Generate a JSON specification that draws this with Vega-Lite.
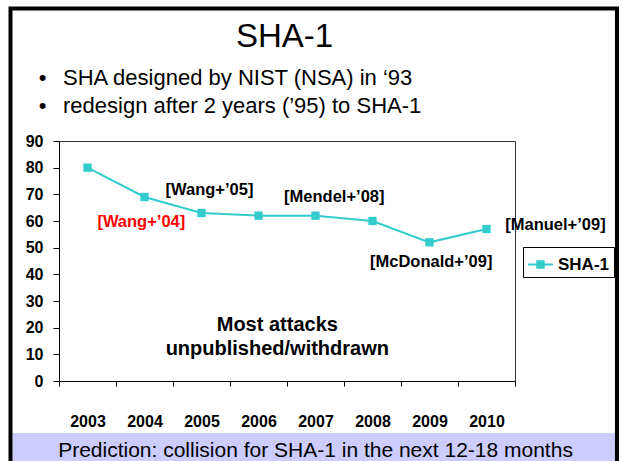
{
  "$schema": "https://vega.github.io/schema/vega-lite/v6.json",
  "width": 456,
  "height": 240,
  "autosize": {"type": "none"},
  "padding": {"left": 59, "top": 141, "right": 108, "bottom": 80},
  "background": "white",
  "config": {
    "font": "Liberation Sans",
    "view": {"stroke": "#333333", "strokeWidth": 1},
    "axis": {
      "labelFont": "Liberation Sans",
      "labelFontWeight": "bold",
      "labelFontSize": 16,
      "labelColor": "black",
      "domainColor": "black",
      "tickColor": "black",
      "grid": false,
      "title": null
    },
    "axisY": {"tickCount": 10, "tickSize": 6, "labelPadding": 10, "labelOverlap": false}
  },
  "datasets": {
    "series": [
      {"year": "2003", "y": 80, "series": "SHA-1"},
      {"year": "2004", "y": 69, "series": "SHA-1"},
      {"year": "2005", "y": 63, "series": "SHA-1"},
      {"year": "2006", "y": 62, "series": "SHA-1"},
      {"year": "2007", "y": 62, "series": "SHA-1"},
      {"year": "2008", "y": 60, "series": "SHA-1"},
      {"year": "2009", "y": 52, "series": "SHA-1"},
      {"year": "2010", "y": 57, "series": "SHA-1"}
    ],
    "notes": [
      {"label": "[Wang+’04]", "x": 2003.944, "y": 57.64},
      {"label": "[Wang+’05]", "x": 2005.14, "y": 69.75},
      {"label": "[Mendel+’08]", "x": 2007.33, "y": 67.24},
      {"label": "[McDonald+’09]", "x": 2009.03, "y": 42.64},
      {"label": "[Manuel+’09]", "x": 2011.21, "y": 56.6}
    ],
    "summary": [
      {"label": "Most attacks", "x": 2006.33, "y": 18.86},
      {"label": "unpublished/withdrawn", "x": 2006.33, "y": 9.75}
    ],
    "heading": [
      {"label": "SHA-1", "x": 2006.456, "y": 125.25}
    ],
    "header": [
      {"label": "SHA designed by NIST (NSA) in ‘93", "x": 2002.57, "y": 111.0},
      {"label": "redesign after 2 years (’95) to SHA-1", "x": 2002.57, "y": 100.5}
    ],
    "footer": [
      {"label": "Prediction: collision for SHA-1 in the next 12-18 months", "x": 2007.0, "y": -28.4}
    ],
    "panel": [
      {"x": 2001.684, "x2": 2012.272, "y": -19.5, "y2": -33}
    ],
    "frame": [
      {"x": 2001.649, "x2": 2012.289, "y": 139.69, "y2": -33.4}
    ]
  },
  "layer": [
    {
      "data": {"name": "series"},
      "mark": {"type": "line", "strokeWidth": 2, "point": {"shape": "square", "filled": true, "size": 70}},
      "encoding": {
        "x": {
          "field": "year",
          "type": "ordinal",
          "bandPosition": 0.5,
          "scale": {"type": "band", "paddingInner": 0, "paddingOuter": 0},
          "axis": {"labelAngle": 0, "tickBand": "extent", "tickSize": 5, "labelPadding": 27}
        },
        "y": {
          "field": "y",
          "type": "quantitative",
          "scale": {"domain": [0, 90], "nice": false}
        },
        "color": {
          "field": "series",
          "type": "nominal",
          "scale": {"range": ["#33CCCC"]},
          "legend": {
            "orient": "none",
            "legendX": 464,
            "legendY": 106,
            "title": null,
            "strokeColor": "black",
            "fillColor": "white",
            "padding": 4,
            "labelFont": "Liberation Sans",
            "labelFontSize": 17,
            "labelFontWeight": "bold",
            "labelColor": "black",
            "labelOffset": 4,
            "symbolType": "M-1,0L1,0M-0.26,-0.26L0.26,-0.26L0.26,0.26L-0.26,0.26Z",
            "symbolSize": 625,
            "symbolStrokeWidth": 2,
            "encode": {"symbols": {"update": {"fill": {"value": "#33CCCC"}, "stroke": {"value": "#33CCCC"}}}}
          }
        }
      }
    },
    {
      "data": {"name": "panel"},
      "mark": {"type": "rect", "color": "#CCCCFF"},
      "encoding": {
        "x": {"field": "x", "type": "quantitative", "scale": {"domain": [2002.5, 2010.5], "nice": false, "zero": false}, "axis": null},
        "x2": {"field": "x2"},
        "y": {"field": "y", "type": "quantitative", "scale": {"domain": [0, 90], "nice": false}},
        "y2": {"field": "y2"}
      }
    },
    {
      "data": {"name": "frame"},
      "mark": {"type": "rect", "filled": false, "stroke": "black", "strokeWidth": 4},
      "encoding": {
        "x": {"field": "x", "type": "quantitative", "scale": {"domain": [2002.5, 2010.5], "nice": false, "zero": false}, "axis": null},
        "x2": {"field": "x2"},
        "y": {"field": "y", "type": "quantitative", "scale": {"domain": [0, 90], "nice": false}},
        "y2": {"field": "y2"}
      }
    },
    {
      "data": {"name": "notes"},
      "mark": {"type": "text", "font": "Liberation Sans", "fontWeight": "bold", "fontSize": 16.5, "align": "center", "baseline": "alphabetic"},
      "encoding": {
        "x": {"field": "x", "type": "quantitative", "scale": {"domain": [2002.5, 2010.5], "nice": false, "zero": false}, "axis": null},
        "y": {"field": "y", "type": "quantitative", "scale": {"domain": [0, 90], "nice": false}},
        "text": {"field": "label"},
        "color": {"condition": {"test": "datum.label === '[Wang+’04]'", "value": "#FF0000"}, "value": "black"}
      }
    },
    {
      "data": {"name": "summary"},
      "mark": {"type": "text", "font": "Liberation Sans", "fontWeight": "bold", "fontSize": 20, "align": "center", "baseline": "alphabetic", "color": "black"},
      "encoding": {
        "x": {"field": "x", "type": "quantitative", "scale": {"domain": [2002.5, 2010.5], "nice": false, "zero": false}, "axis": null},
        "y": {"field": "y", "type": "quantitative", "scale": {"domain": [0, 90], "nice": false}},
        "text": {"field": "label"}
      }
    },
    {
      "data": {"name": "heading"},
      "mark": {"type": "text", "font": "Liberation Sans", "fontSize": 33, "align": "center", "baseline": "alphabetic", "color": "black"},
      "encoding": {
        "x": {"field": "x", "type": "quantitative", "scale": {"domain": [2002.5, 2010.5], "nice": false, "zero": false}, "axis": null},
        "y": {"field": "y", "type": "quantitative", "scale": {"domain": [0, 90], "nice": false}},
        "text": {"field": "label"}
      }
    },
    {
      "data": {"name": "header"},
      "mark": {"type": "text", "font": "Liberation Sans", "fontSize": 22, "align": "left", "baseline": "alphabetic", "color": "black"},
      "encoding": {
        "x": {"field": "x", "type": "quantitative", "scale": {"domain": [2002.5, 2010.5], "nice": false, "zero": false}, "axis": null},
        "y": {"field": "y", "type": "quantitative", "scale": {"domain": [0, 90], "nice": false}},
        "text": {"field": "label"}
      }
    },
    {
      "data": {"name": "header"},
      "mark": {"type": "text", "font": "Liberation Sans", "fontSize": 22, "align": "center", "baseline": "alphabetic", "color": "black", "dx": -20.5},
      "encoding": {
        "x": {"field": "x", "type": "quantitative", "scale": {"domain": [2002.5, 2010.5], "nice": false, "zero": false}, "axis": null},
        "y": {"field": "y", "type": "quantitative", "scale": {"domain": [0, 90], "nice": false}},
        "text": {"value": "•"}
      }
    },
    {
      "data": {"name": "footer"},
      "mark": {"type": "text", "font": "Liberation Sans", "fontSize": 21, "align": "center", "baseline": "alphabetic", "color": "black"},
      "encoding": {
        "x": {"field": "x", "type": "quantitative", "scale": {"domain": [2002.5, 2010.5], "nice": false, "zero": false}, "axis": null},
        "y": {"field": "y", "type": "quantitative", "scale": {"domain": [0, 90], "nice": false}},
        "text": {"field": "label"}
      }
    }
  ],
  "resolve": {"scale": {"x": "independent"}}
}
